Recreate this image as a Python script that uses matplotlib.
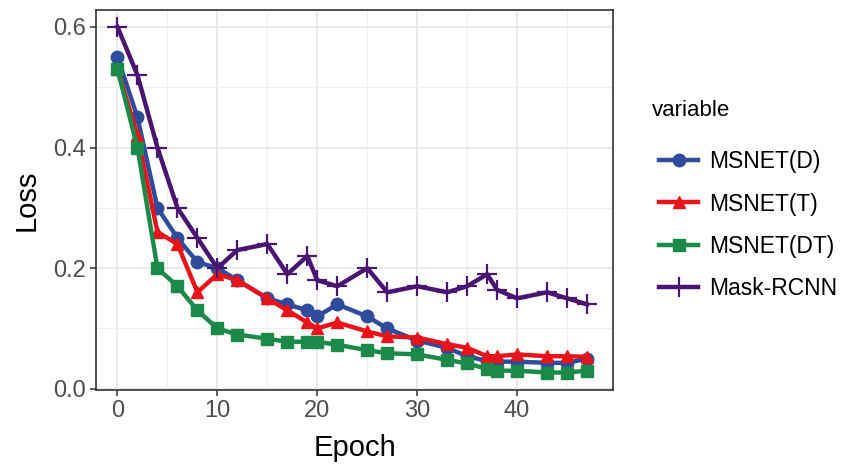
import numpy as np
import matplotlib
matplotlib.use('Agg')
import matplotlib.pyplot as plt
from matplotlib.ticker import MultipleLocator

plt.rcParams['font.family'] = ['Liberation Sans', 'DejaVu Sans']

# epochs shared by every series
epoch = [0, 2, 4, 6, 8, 10, 12, 15, 17, 19, 20, 22, 25, 27, 30, 33, 35, 37, 38, 40, 43, 45, 47]

msnet_d = [0.55, 0.45, 0.30, 0.25, 0.21, 0.20, 0.18, 0.15, 0.14, 0.13, 0.12, 0.14, 0.12, 0.10,
           0.08, 0.068, 0.054, 0.046, 0.045, 0.045, 0.043, 0.043, 0.05]
msnet_t = [0.53, 0.42, 0.26, 0.24, 0.16, 0.19, 0.18, 0.15, 0.13, 0.11, 0.10, 0.11, 0.095, 0.087,
           0.085, 0.074, 0.068, 0.054, 0.054, 0.057, 0.054, 0.054, 0.053]
msnet_dt = [0.53, 0.40, 0.20, 0.17, 0.13, 0.10, 0.09, 0.083, 0.078, 0.078, 0.078, 0.073, 0.064, 0.059,
            0.057, 0.048, 0.042, 0.033, 0.03, 0.03, 0.027, 0.027, 0.03]
mask_rcnn = [0.60, 0.52, 0.40, 0.30, 0.25, 0.20, 0.23, 0.24, 0.19, 0.22, 0.18, 0.17, 0.20, 0.16,
             0.17, 0.16, 0.17, 0.19, 0.164, 0.15, 0.16, 0.15, 0.14]

series = [
    ('MSNET(D)', msnet_d, '#2F4B9B', 'o'),
    ('MSNET(T)', msnet_t, '#E8141A', '^'),
    ('MSNET(DT)', msnet_dt, '#1B8A48', 's'),
    ('Mask-RCNN', mask_rcnn, '#4A1570', '+'),
]

fig = plt.figure(figsize=(8.59, 4.65), dpi=100)
ax = fig.add_axes([96 / 859, 1 - 390 / 465, (613 - 96) / 859, (390 - 10) / 465])

for name, vals, col, mk in series:
    if mk == '+':
        ax.plot(epoch, vals, color=col, lw=3.2, marker=mk, markersize=15, mew=1.6, label=name)
    else:
        ax.plot(epoch, vals, color=col, lw=3.2, marker=mk, markersize=9, label=name)

ax.set_xlim(-2.15, 49.6)
ax.set_ylim(-0.002, 0.628)
ax.xaxis.set_major_locator(MultipleLocator(10))
ax.xaxis.set_minor_locator(MultipleLocator(5))
ax.yaxis.set_major_locator(MultipleLocator(0.2))
ax.yaxis.set_minor_locator(MultipleLocator(0.1))
ax.yaxis.set_major_formatter(matplotlib.ticker.FormatStrFormatter('%.1f'))

ax.grid(True, which='major', color='#E6E6E6', lw=1.2)
ax.grid(True, which='minor', color='#EFEFEF', lw=0.8)
ax.set_axisbelow(True)
for s in ax.spines.values():
    s.set_color('#333333')
    s.set_linewidth(1.2)
ax.tick_params(which='major', length=4, width=1.1, color='#333333',
               labelsize=17, labelcolor='#4D4D4D', pad=3)
ax.tick_params(which='minor', length=0)

ax.set_xlabel('Epoch', fontsize=21, labelpad=9)
ax.set_ylabel('Loss', fontsize=21, labelpad=9)

fig.text(652 / 859, 1 - 110 / 465, 'variable', fontsize=16, va='center', ha='left')
leg = fig.legend(loc='upper left', bbox_to_anchor=(643 / 859, 1 - 134 / 465),
                 frameon=False, fontsize=16.5, handlelength=1.7,
                 labelspacing=0.85, handletextpad=0.5, borderpad=0.2)

fig.savefig('out.png', dpi=100)
